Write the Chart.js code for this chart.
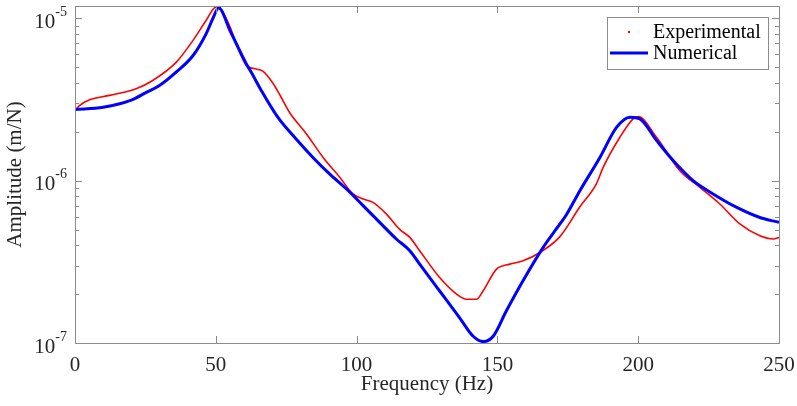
<!DOCTYPE html>
<html>
<head>
<meta charset="utf-8">
<script src="https://cdn.jsdelivr.net/npm/chart.js@4.4.0/dist/chart.umd.min.js"></script>
<style>
  html, body { margin: 0; padding: 0; background: #fff; }
</style>
</head>
<body>
<canvas id="frfChart" width="797" height="406"></canvas>
<script>
// Frequency response: measured vs. simulated amplitude (log scale)

const expFreq = [0, 1.6, 5.2, 12.3, 21.7, 27.6, 36, 41.9, 46.6, 50,
  52, 55, 57.3, 60.8, 63.5, 66.7, 70.3, 73, 76.2, 82.2,
  88.1, 94, 98.7, 102.3, 105.8, 110.6, 115.3, 118.9, 122.4, 129.5,
  135.5, 139, 142.6, 144.9, 149.7, 154.4, 159.1, 165.1, 172.2, 179.3,
  185.2, 187.6, 193.5, 198.2, 200, 206.5, 214.8, 221.9, 229, 236.1,
  243.2, 248, 250];
const expAmp = [2.70e-6, 2.90e-6, 3.15e-6, 3.35e-6, 3.68e-6, 4.14e-6, 5.37e-6, 7.31e-6, 9.72e-6, 1.17e-5,
  1.12e-5, 8.9e-6, 6.98e-6, 5.13e-6, 4.9e-6, 4.73e-6, 3.98e-6, 3.31e-6, 2.63e-6, 1.94e-6,
  1.39e-6, 1.05e-6, 8.28e-7, 7.71e-7, 7.35e-7, 6.22e-7, 5.01e-7, 4.47e-7, 3.70e-7, 2.53e-7,
  2.00e-7, 1.86e-7, 1.86e-7, 2.09e-7, 2.85e-7, 3.06e-7, 3.21e-7, 3.61e-7, 4.52e-7, 6.9e-7,
  9.6e-7, 1.21e-6, 1.85e-6, 2.40e-6, 2.48e-6, 1.85e-6, 1.15e-6, 9.1e-7, 7.18e-7, 5.41e-7,
  4.57e-7, 4.37e-7, 4.47e-7];

const numFreq = [0, 10, 20, 25, 30, 36, 42, 46.6, 49, 51,
  52, 55, 56, 60.8, 62.6, 66, 72, 78.6, 84.5, 90.4,
  96.4, 102.3, 108.2, 114.1, 118.9, 122.4, 129.5, 136.6, 141.4, 145,
  148.5, 153.2, 159.1, 166.2, 172.2, 174.5, 179.3, 186.4, 192.3, 197.1,
  200.6, 206.5, 212.4, 219.5, 226.6, 235, 243.2, 250];
const numAmp = [2.74e-6, 2.83e-6, 3.13e-6, 3.47e-6, 3.85e-6, 4.67e-6, 5.92e-6, 8.05e-6, 1.0e-5, 1.16e-5,
  1.12e-5, 8.43e-6, 7.76e-6, 5.25e-6, 4.65e-6, 3.63e-6, 2.46e-6, 1.80e-6, 1.39e-6, 1.10e-6,
  8.89e-7, 7.02e-7, 5.53e-7, 4.37e-7, 3.70e-7, 3.06e-7, 2.09e-7, 1.43e-7, 1.10e-7, 1.02e-7,
  1.10e-7, 1.58e-7, 2.42e-7, 3.87e-7, 5.41e-7, 6.17e-7, 8.67e-7, 1.39e-6, 2.13e-6, 2.46e-6,
  2.40e-6, 1.77e-6, 1.33e-6, 1.0e-6, 8.28e-7, 6.84e-7, 5.93e-7, 5.53e-7];

const xTicks = [0, 50, 100, 150, 200, 250];
const yDecades = [1e-7, 1e-6, 1e-5];

const serif = '"Liberation Serif", "Times New Roman", serif';
const axisGray = '#8c8c8c';
const textCol = '#262626';
const red = '#ff0000';
const blue = '#0000ff';

const toPoints = (xs, ys) => xs.map((f, i) => ({ x: f, y: ys[i] }));

// box, inward ticks (MATLAB style), superscript y labels, legend inside plot
const frameAndLegend = {
  id: 'frameAndLegend',
  afterDraw(chart) {
    const { ctx, chartArea: a, scales: { x, y } } = chart;
    ctx.save();
    ctx.strokeStyle = axisGray;
    ctx.lineWidth = 1;
    ctx.strokeRect(a.left + 0.5, a.top + 0.5, a.right - a.left, a.bottom - a.top);

    ctx.beginPath();
    xTicks.forEach(v => {
      const px = Math.round(x.getPixelForValue(v)) + 0.5;
      ctx.moveTo(px, a.bottom); ctx.lineTo(px, a.bottom - 7);
      ctx.moveTo(px, a.top); ctx.lineTo(px, a.top + 7);
    });
    yDecades.forEach(d => {
      for (let m = 1; m <= 9; m++) {
        const v = d * m;
        if (v < y.min || v > y.max) continue;
        const py = Math.round(y.getPixelForValue(v)) + 0.5;
        const len = m === 1 ? 7 : 4;
        ctx.moveTo(a.left, py); ctx.lineTo(a.left + len, py);
        ctx.moveTo(a.right, py); ctx.lineTo(a.right - len, py);
      }
    });
    ctx.stroke();

    // y tick labels 10^n
    ctx.fillStyle = textCol;
    ctx.textAlign = 'right';
    ctx.textBaseline = 'middle';
    yDecades.forEach(d => {
      const py = y.getPixelForValue(d);
      const ex = String(Math.round(Math.log10(d)));
      ctx.font = '14px ' + serif;
      ctx.fillText(ex, a.left - 8, py - 6);
      const w = ctx.measureText(ex).width;
      ctx.font = '21px ' + serif;
      ctx.fillText('10', a.left - 8 - w, py + 4);
    });

    // legend
    const lx = 607, ly = 17, lw = 161, lh = 52;
    ctx.fillStyle = '#fff';
    ctx.fillRect(lx, ly, lw, lh);
    ctx.strokeStyle = axisGray;
    ctx.strokeRect(lx + 0.5, ly + 0.5, lw, lh);
    ctx.font = '20px ' + serif;
    ctx.textAlign = 'left';
    chart.data.datasets.forEach((ds, i) => {
      const cy = ly + 15 + i * 21;
      if (ds.legendMark === 'dot') {
        ctx.fillStyle = ds.borderColor;
        ctx.beginPath();
        ctx.arc(lx + 22, cy, 1.2, 0, Math.PI * 2);
        ctx.fill();
      } else {
        ctx.strokeStyle = ds.borderColor;
        ctx.lineWidth = ds.borderWidth;
        ctx.beginPath();
        ctx.moveTo(lx + 3, cy); ctx.lineTo(lx + 41, cy);
        ctx.stroke();
      }
      ctx.fillStyle = '#000';
      ctx.fillText(ds.label, lx + 46, cy + 1);
    });
    ctx.restore();
  }
};

new Chart(document.getElementById('frfChart'), {
  type: 'line',
  data: {
    datasets: [
      {
        label: 'Experimental',
        data: toPoints(expFreq, expAmp),
        borderColor: red,
        backgroundColor: red,
        borderWidth: 1.6,
        pointRadius: 0,
        cubicInterpolationMode: 'monotone',
        legendMark: 'dot',
        order: 1,
      },
      {
        label: 'Numerical',
        data: toPoints(numFreq, numAmp),
        borderColor: blue,
        backgroundColor: blue,
        borderWidth: 3,
        pointRadius: 0,
        cubicInterpolationMode: 'monotone',
        order: 0,
      },
    ],
  },
  options: {
    responsive: false,
    animation: false,
    events: [],
    layout: { padding: { left: 0, right: 18, top: 6, bottom: 0 } },
    plugins: { legend: { display: false }, tooltip: { enabled: false } },
    scales: {
      x: {
        type: 'linear',
        min: 0,
        max: 250,
        afterFit: s => { s.height = 63; s.paddingLeft = 0; s.paddingRight = 0; },
        afterBuildTicks: s => { s.ticks = xTicks.map(v => ({ value: v })); },
        grid: { display: false, drawTicks: false },
        border: { display: false },
        ticks: { padding: 10, color: textCol, font: { family: serif, size: 21 } },
        title: {
          display: true,
          text: 'Frequency (Hz)',
          color: textCol,
          font: { family: serif, size: 21 },
          padding: { top: 0, bottom: 9 },
        },
      },
      y: {
        type: 'logarithmic',
        min: 1e-7,
        max: 1.19e-5,
        afterFit: s => { s.width = 75; s.paddingTop = 0; s.paddingBottom = 0; },
        grid: { display: false, drawTicks: false },
        border: { display: false },
        ticks: { callback: () => '' },
        title: {
          display: true,
          text: 'Amplitude (m/N)',
          color: textCol,
          font: { family: serif, size: 21 },
          padding: { top: 3, bottom: 0 },
        },
      },
    },
  },
  plugins: [frameAndLegend],
});
</script>
</body>
</html>
